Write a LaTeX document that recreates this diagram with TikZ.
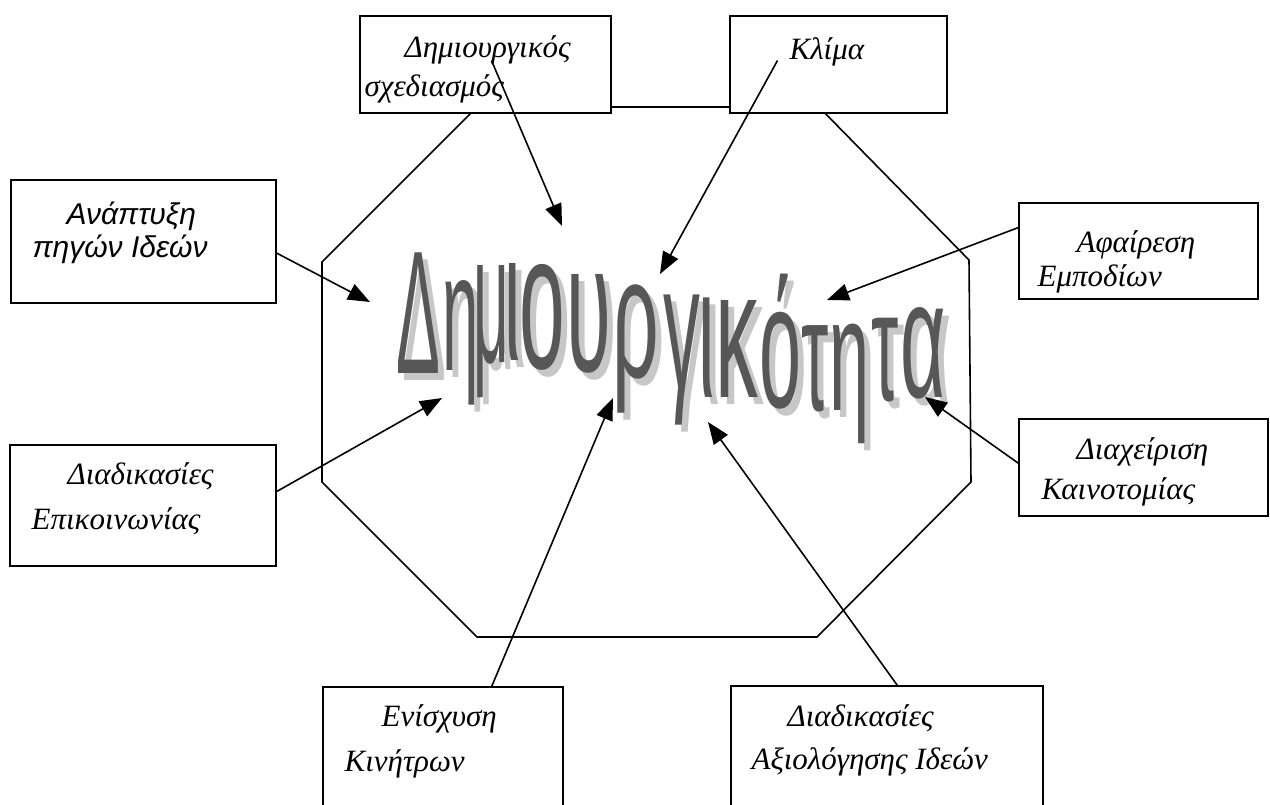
\documentclass[tikz,border=0pt]{standalone}
\usepackage{fontspec}
\setmainfont{Liberation Serif}
\newfontfamily\arialgr{Liberation Sans}
\usetikzlibrary{positioning,calc,arrows.meta}

\tikzset{
  box/.style 2 args={draw, line width=0.8pt, fill=white, inner sep=0pt,
    minimum width=#1, minimum height=#2},
  boxtext/.style={inner sep=0pt, anchor=base west, align=left,
    font=\fontsize{15.5}{20.5}\selectfont\itshape},
  arr/.style={-{Triangle[length=11pt,width=8.5pt]}, line width=0.8pt},
  edge/.style={line width=0.8pt},
  letter/.style={anchor=base, inner sep=0pt, text=black!66,
    font=\arialgr\fontsize{82}{82}\selectfont},
  shadowletter/.style={letter, text=black!22},
}

\begin{document}
\begin{tikzpicture}[x=0.5pt,y=-0.5pt]
  \useasboundingbox (0,0) rectangle (1270,804);

  % Octagon round the word
  \draw[edge] (477,107) -- (819,107) -- (969,260) -- (971,482) -- (817,637)
    -- (477,637) -- (322,482) -- (322,262) -- cycle;

  % The word, letter by letter, with its shadow
  \foreach \l/\x/\b/\w/\s in {Δ/418/373/0.40/1.07, η/461/370/0.40/1.02,
      μ/491/362/0.38/1.12, ι/513/360/0.45/1.12, ο/542/368/0.50/1.18,
      υ/589/371/0.50/1.12, ρ/636/377/0.50/1.05, γ/682/388/0.45/1.08,
      ι/707/397/0.45/1.15, κ/737/397/0.52/1.12, ό/780/407/0.46/1.08,
      τ/815/410/0.42/0.98, η/850/410/0.44/0.98, τ/885/400/0.42/0.95,
      α/923/397/0.48/1.02} {
    \node[shadowletter, xscale=\w, yscale=\s] at (\x+6,\b+7) {\l};
    \node[letter, xscale=\w, yscale=\s] at (\x,\b) {\l};
  }

  % Boxes
  \node[box={125.5pt}{48.5pt}] (ds) at (485.5,64.5) {};
  \node[box={108.5pt}{48.5pt}] (klima) at (838.5,64.5) {};
  \node[box={132.5pt}{61.5pt}] (anaptyxi) at (143.5,241.5) {};
  \node[box={133pt}{60.5pt}] (epikoin) at (143,505.5) {};
  \node[box={119.5pt}{48pt}] (afairesi) at (1138.5,251) {};
  \node[box={124.5pt}{48.5pt}] (diaxeir) at (1143.5,467.5) {};
  \node[box={120pt}{71.5pt}] (enisxysi) at (443,758.5) {};
  \node[box={156pt}{72pt}] (axiolog) at (887,758) {};

  % Box texts (placed at the baseline of their last line)
  \node[boxtext] at ([shift={(5,81)}]ds.north west)
    {\hspace*{20pt}Δημιουργικός\\[-1pt]σχεδιασμός};
  \node[boxtext] at ([shift={(60,44)}]klima.north west) {Κλίμα};
  \node[boxtext, font=\arialgr\fontsize{15}{20.5}\selectfont\itshape]
    at ([shift={(22,78)}]anaptyxi.north west)
    {\hspace*{17pt}Ανάπτυξη\\[-4pt]πηγών Ιδεών};
  \node[boxtext] at ([shift={(22,85)}]epikoin.north west)
    {\hspace*{18pt}Διαδικασίες\\[2pt]Επικοινωνίας};
  \node[boxtext] at ([shift={(19,84)}]afairesi.north west)
    {\hspace*{19.5pt}Αφαίρεση\\[-3.5pt]Εμποδίων};
  \node[boxtext] at ([shift={(23,81)}]diaxeir.north west)
    {\hspace*{17.5pt}Διαχείριση\\[-0.5pt]Καινοτομίας};
  \node[boxtext] at ([shift={(22,85)}]enisxysi.north west)
    {\hspace*{18.5pt}Ενίσχυση\\[2pt]Κινήτρων};
  \node[boxtext] at ([shift={(21,84)}]axiolog.north west)
    {\hspace*{18pt}Διαδικασίες\\[1pt]Αξιολόγησης Ιδεών};

  % Arrow tips near the word
  \coordinate (tip-ds) at (562,226);
  \coordinate (tip-klima) at (660,274);
  \coordinate (tip-anaptyxi) at (370,302);
  \coordinate (tip-afairesi) at (827,300);
  \coordinate (tip-epikoin) at (442,398);
  \coordinate (tip-diaxeir) at (925,397);
  \coordinate (tip-enisxysi) at (613,398);
  \coordinate (tip-axiolog) at (708,422);

  % Arrows
  \draw[arr] ([xshift=3pt,yshift=2pt]ds.center) -- (tip-ds);
  \draw[arr] ([xshift=-30.5pt,yshift=2pt]klima.center) -- (tip-klima);
  \draw[arr] (anaptyxi.-5) -- (tip-anaptyxi);
  \draw[arr] (afairesi.169) -- (tip-afairesi);
  \draw[arr] (epikoin.6) -- (tip-epikoin);
  \draw[arr] (diaxeir.178) -- (tip-diaxeir);
  \draw[arr] (enisxysi.56) -- (tip-enisxysi);
  \draw[arr] (axiolog.82) -- (tip-axiolog);
\end{tikzpicture}
\end{document}
